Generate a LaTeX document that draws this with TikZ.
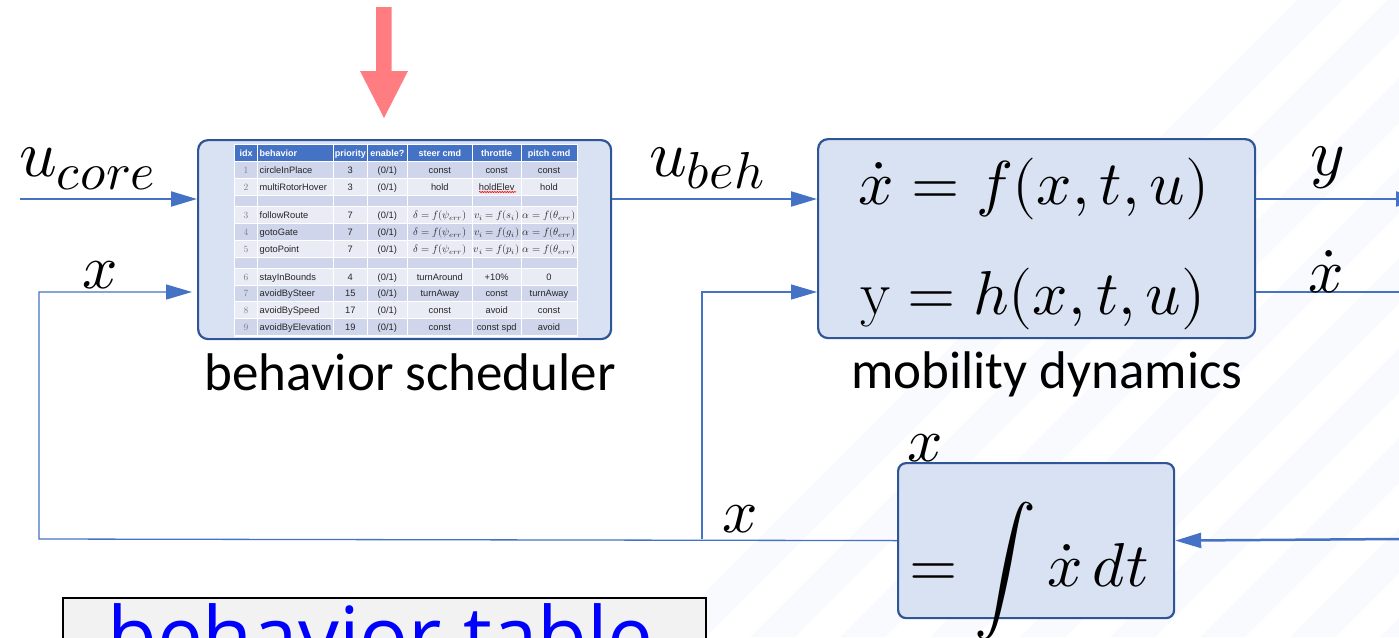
\documentclass[tikz,border=0pt]{standalone}
\usepackage{fontspec}
\usepackage{unicode-math}
\setmathfont{Latin Modern Math}
\newfontfamily\calibrifont{Carlito}
\newfontfamily\tabfont{Liberation Sans}
\newfontfamily\opensansfont{Open Sans}
\usetikzlibrary{arrows.meta,decorations.pathmorphing}
\definecolor{lineblue}{HTML}{4472C4}
\definecolor{boxfill}{HTML}{D9E2F3}
\definecolor{boxdraw}{HTML}{2F5597}
\definecolor{rowdark}{HTML}{CFD5EA}
\definecolor{rowlight}{HTML}{E9EBF5}
\definecolor{redarrow}{HTML}{FF7C80}
\definecolor{tabtext}{HTML}{262626}
\definecolor{idxgray}{HTML}{7F7F7F}
\definecolor{stripecol}{HTML}{F8FAFD}
\definecolor{tablegray}{HTML}{F2F2F2}
\newcommand{\tm}[1]{{\fontsize{10.5}{12}\selectfont$#1$}}
\newcommand{\tabrow}[9]{%
  \node[idxtxt,anchor=base] (r#1a) at (246,#2) {#3};
  \node[tabtxt,anchor=base west] (r#1b) at (259.5,#2) {#4};
  \node[tabtxt,anchor=base] (r#1c) at (350.3,#2) {#5};
  \node[tabtxt,anchor=base] (r#1d) at (387.3,#2) {#6};
  \node[tabtxt,anchor=base] (r#1e) at (439.8,#2) {#7};
  \node[tabtxt,anchor=base] (r#1f) at (496.7,#2) {#8};
  \node[tabtxt,anchor=base] (r#1g) at (549,#2) {#9};
}
\begin{document}
\begin{tikzpicture}[x=1pt,y=-1pt,
  conn/.style={draw=lineblue, line width=2pt},
  thinconn/.style={draw=lineblue, line width=1.3pt},
  tipped/.style={-{Triangle[length=26pt,width=15pt]}},
  blockbox/.style={draw=boxdraw, fill=boxfill, line width=2.2pt, rounded corners=10pt, inner sep=0pt, anchor=north west},
  mathlbl/.style={inner sep=0pt, anchor=base west, font=\fontsize{62}{70}\selectfont},
  caption/.style={inner sep=0pt, anchor=base, font=\calibrifont\fontsize{53}{60}\selectfont},
  tabtxt/.style={inner sep=0pt, font=\tabfont\fontsize{9.3}{11}\selectfont, text=tabtext},
  idxtxt/.style={inner sep=0pt, font=\fontsize{9.5}{11}\selectfont, text=idxgray},
  hdr/.style={inner sep=0pt, font=\tabfont\bfseries\fontsize{9}{11}\selectfont, text=white},
]
\useasboundingbox (0,0) rectangle (1399,637);
\clip (0,0) rectangle (1399,637);
% faint background stripes
\foreach \s in {0,...,9} {
  \fill[stripecol] (660+\s*90,637) -- ++(45,0) -- ++(637,-637) -- ++(-45,0) -- cycle;
}

% red input arrow
\fill[redarrow] (376,7) -- (391.5,7) -- (391.5,71) -- (408,71) -- (384,118) -- (360,71) -- (376,71) -- cycle;

% blocks
\node[blockbox, minimum width=413pt, minimum height=199pt] (sched) at (197,139) {};
\node[blockbox, minimum width=437pt, minimum height=199pt] (mob) at (817,138) {};
\node[blockbox, minimum width=276pt, minimum height=155pt, rounded corners=8pt] (integ) at (897,462) {};

% behavior table inside scheduler
\fill[white] (234,144) rectangle (578,337);
\fill[lineblue] (235,145) rectangle (577,161.7);
\fill[rowdark]  (235,161.7) rectangle (577,178.3);
\fill[rowlight] (235,178.3) rectangle (577,195.7);
\fill[rowdark]  (235,195.7) rectangle (577,206.7);
\fill[rowlight] (235,206.7) rectangle (577,223.3);
\fill[rowdark]  (235,223.3) rectangle (577,240);
\fill[rowlight] (235,240) rectangle (577,257.7);
\fill[rowdark]  (235,257.7) rectangle (577,268.3);
\fill[rowlight] (235,268.3) rectangle (577,285);
\fill[rowdark]  (235,285) rectangle (577,301.7);
\fill[rowlight] (235,301.7) rectangle (577,318.3);
\fill[rowdark]  (235,318.3) rectangle (577,335);
\foreach \cx in {257.3,333.3,367.3,407.3,472.3,521} {
  \draw[white, line width=1pt] (\cx,145) -- (\cx,335);
}
\foreach \ry in {161.7,178.3,195.7,206.7,223.3,240,257.7,268.3,285,301.7,318.3} {
  \draw[white, line width=1pt] (235,\ry) -- (577,\ry);
}
\node[hdr,anchor=base] (h1) at (246,156.5) {idx};
\node[hdr,anchor=base west] (h2) at (259.5,156.5) {behavior};
\node[hdr,anchor=base] (h3) at (350.3,156.5) {priority};
\node[hdr,anchor=base] (h4) at (387.3,156.5) {enable?};
\node[hdr,anchor=base] (h5) at (439.8,156.5) {steer cmd};
\node[hdr,anchor=base] (h6) at (496.7,156.5) {throttle};
\node[hdr,anchor=base] (h7) at (549,156.5) {pitch cmd};
\tabrow{1}{173.3}{1}{circleInPlace}{3}{(0/1)}{const}{const}{const}
\tabrow{2}{190.3}{2}{multiRotorHover}{3}{(0/1)}{hold}{holdElev}{hold}
\tabrow{3}{218.3}{3}{followRoute}{7}{(0/1)}{\tm{\delta = f(\psi_{err})}}{\tm{v_i = f(s_i)}}{\tm{\alpha = f(\theta_{err})}}
\tabrow{4}{235}{4}{gotoGate}{7}{(0/1)}{\tm{\delta = f(\psi_{err})}}{\tm{v_i = f(g_i)}}{\tm{\alpha = f(\theta_{err})}}
\tabrow{5}{252.1}{5}{gotoPoint}{7}{(0/1)}{\tm{\delta = f(\psi_{err})}}{\tm{v_i = f(p_i)}}{\tm{\alpha = f(\theta_{err})}}
\tabrow{6}{280}{6}{stayInBounds}{4}{(0/1)}{turnAround}{+10\%}{0}
\tabrow{7}{296.6}{7}{avoidBySteer}{15}{(0/1)}{turnAway}{const}{turnAway}
\tabrow{8}{313.3}{8}{avoidBySpeed}{17}{(0/1)}{const}{avoid}{const}
\tabrow{9}{330}{9}{avoidByElevation}{19}{(0/1)}{const}{const spd}{avoid}
\draw[red, line width=0.6pt, decorate, decoration={snake, amplitude=0.6pt, segment length=2.5pt}] (479,192) -- (516,192);

% block contents
\node[mathlbl, anchor=base] (eq1) at (1034,204) {$\dot{x} = f(x,t,u)$};
\node[mathlbl, anchor=base] (eq2) at (1033,314) {$\mathrm{y} = h(x,t,u)$};
\node[mathlbl] (eq3) at (909,586) {$= \displaystyle\int \dot{x}\,dt$};
\node[mathlbl] (lxint) at (907,461) {$x$};

% captions
\node[caption] (capsched) at (410,390) {behavior scheduler};
\node[caption] (capmob) at (1047,388) {mobility dynamics};

% signal coordinates
\coordinate (ucin) at (20,199);
\coordinate (fbc) at (39,539);
\coordinate (xin) at (39,292);
\coordinate (xtip) at (192,292);
\coordinate (br) at (702,539);
\coordinate (brtop) at (702,292);
\coordinate (yout) at (1422,199);
\coordinate (xdout) at (1399,292);
\coordinate (ret) at (1399,539);

% connectors
\draw[conn, tipped] (ucin) -- (ucin -| sched.west);
\draw[conn, tipped] (sched.east |- ucin) -- (ucin -| mob.west);
\draw[conn, tipped] (mob.east |- ucin) -- (yout);
\draw[thinconn] (mob.east |- xdout) -- (xdout);
\draw[conn, line width=2.5pt, tipped] (ret) -- (integ.east);
\draw[thinconn, tipped] (integ.west) -- (fbc) -- (xin) -- (xtip);
\draw[thinconn, tipped] (br) -- (brtop) -- (brtop -| mob.west);

% signal labels
\node[inner sep=0pt, anchor=base west] (lucore) at (19,176) {\fontsize{66}{70}\selectfont$u$\raisebox{-13pt}{\fontsize{52}{56}\selectfont$core$}};
\node[inner sep=0pt, anchor=base west] (lubeh) at (649,176) {\fontsize{66}{70}\selectfont$u$\raisebox{-12pt}{\fontsize{52}{56}\selectfont$beh$}};
\node[mathlbl] (lx1) at (82,288) {$x$};
\node[mathlbl] (lx2) at (722,532) {$x$};
\node[mathlbl, font=\fontsize{66}{70}\selectfont] (ly) at (1310,175) {$y$};
\node[mathlbl] (lxd) at (1308,292) {$\dot{x}$};

% behavior table caption box
\node[draw=black, fill=tablegray, line width=1.5pt, inner sep=0pt, anchor=north west, minimum width=643pt, minimum height=70pt] (btbox) at (62,597) {};
\node[inner sep=0pt, anchor=base west, text={rgb,255:red,0;green,0;blue,255}, font=\opensansfont\fontsize{81.5}{90}\selectfont] (bttext) at (107,665) {behavior table};
\end{tikzpicture}
\end{document}
